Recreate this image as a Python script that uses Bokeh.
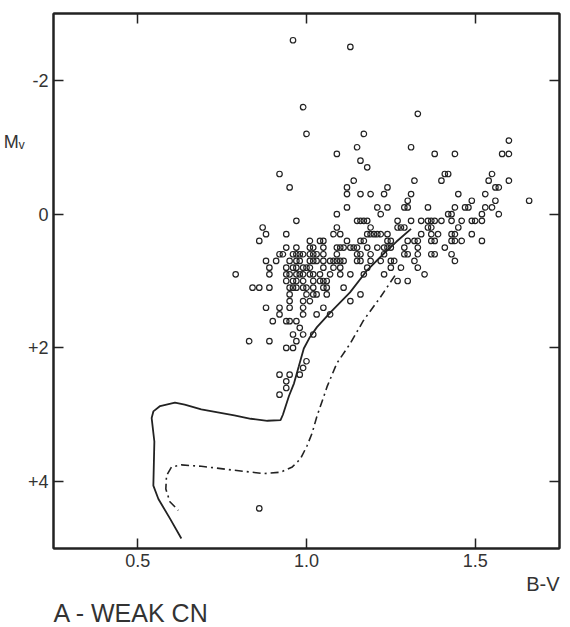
from bokeh.plotting import figure
from bokeh.models import Range1d, FixedTicker, LinearAxis, Title
from bokeh.embed import file_html
from bokeh.resources import INLINE

# ---- data: stars (B-V, Mv), listed row by row in Mv ----
star_bv = [
    0.96,
    1.13,
    1.60,
    0.99,
    1.33,
    1.00, 1.17,
    1.15, 1.31,
    1.09, 1.38, 1.44, 1.58, 1.60,
    1.16,
    1.18,
    0.92, 1.41, 1.42, 1.55,
    1.14, 1.32, 1.40, 1.54, 1.60,
    0.95, 1.12, 1.24, 1.56, 1.57,
    1.12, 1.16, 1.19, 1.23, 1.31, 1.45, 1.53,
    1.30, 1.49, 1.56, 1.66,
    1.12, 1.21, 1.24, 1.29, 1.30, 1.36, 1.44, 1.47, 1.48, 1.53, 1.55,
    1.09, 1.22, 1.42, 1.43, 1.52, 1.57,
    0.97, 1.15, 1.16, 1.17, 1.18, 1.27, 1.31, 1.34, 1.36, 1.37, 1.38, 1.40, 1.43, 1.46, 1.49, 1.50, 1.52,
    0.87, 1.09, 1.19, 1.27, 1.28, 1.29, 1.36, 1.37, 1.45,
    0.88, 0.94, 1.08, 1.10, 1.18, 1.19, 1.20, 1.21, 1.22, 1.24, 1.34, 1.37, 1.39, 1.43, 1.44, 1.49,
    0.86, 1.01, 1.04, 1.05, 1.12, 1.16, 1.17, 1.24, 1.25, 1.30, 1.32, 1.33, 1.37, 1.38, 1.43, 1.44, 1.46, 1.52,
    0.94, 0.97, 1.01, 1.02, 1.05, 1.09, 1.10, 1.11, 1.13, 1.14, 1.15, 1.18, 1.21, 1.23, 1.24, 1.25, 1.29, 1.33, 1.41,
    0.92, 0.93, 0.96, 0.97, 0.98, 0.99, 1.01, 1.02, 1.03, 1.05, 1.09, 1.15, 1.16, 1.19, 1.23, 1.29, 1.30, 1.33, 1.37, 1.38, 1.43,
    0.88, 0.91, 0.95, 0.97, 0.98, 1.01, 1.02, 1.03, 1.05, 1.07, 1.08, 1.09, 1.10, 1.11, 1.15, 1.16, 1.19, 1.22, 1.25, 1.26, 1.32, 1.44,
    0.89, 0.94, 0.96, 0.97, 0.99, 1.00, 1.01, 1.05, 1.08, 1.10, 1.18, 1.25, 1.28, 1.33,
    0.79, 0.89, 0.94, 0.95, 0.97, 0.98, 0.99, 1.01, 1.02, 1.04, 1.07, 1.10, 1.13, 1.17, 1.23, 1.35,
    0.94, 0.96, 0.97, 0.99, 1.02, 1.04, 1.05, 1.06, 1.27, 1.30,
    0.84, 0.86, 0.89, 0.95, 0.96, 0.97, 0.99, 1.00, 1.02, 1.05, 1.06, 1.11,
    0.95, 1.00, 1.02, 1.03, 1.06, 1.16,
    0.95, 0.99, 1.01, 1.13,
    0.88, 0.92, 0.95, 0.99, 1.05,
    0.92, 0.99, 1.03, 1.07,
    0.90, 0.94, 0.95, 0.97,
    0.98,
    0.96, 0.99, 1.02,
    0.83, 0.89, 0.97,
    0.94, 0.96,
    1.00,
    0.99,
    0.92, 0.95, 0.98,
    0.94,
    0.94,
    0.92,
    0.86,
]
star_mv = (
    [-2.6] * 1 + [-2.5] * 1 + [-1.1] * 1 + [-1.6] * 1 + [-1.5] * 1 + [-1.2] * 2 + [-1.0] * 2
    + [-0.9] * 5 + [-0.8] * 1 + [-0.7] * 1 + [-0.6] * 4 + [-0.5] * 5 + [-0.4] * 5
    + [-0.3] * 7 + [-0.2] * 4 + [-0.1] * 11 + [0.0] * 6 + [0.1] * 17 + [0.2] * 9
    + [0.3] * 16 + [0.4] * 18 + [0.5] * 19 + [0.6] * 21 + [0.7] * 22 + [0.8] * 14
    + [0.9] * 16 + [1.0] * 10 + [1.1] * 12 + [1.2] * 6 + [1.3] * 4 + [1.4] * 5
    + [1.5] * 4 + [1.6] * 4 + [1.7] * 1 + [1.8] * 3 + [1.9] * 3 + [2.0] * 2
    + [2.2] * 1 + [2.3] * 1 + [2.4] * 3 + [2.5] * 1 + [2.6] * 1 + [2.7] * 1 + [4.4] * 1
)

# ---- fitted sequences ----
solid_bv = [1.31, 1.267, 1.227, 1.178, 1.129, 1.071, 1.031, 1.010, 0.992, 0.977, 0.963, 0.948,
            0.930, 0.923, 0.884, 0.835, 0.786, 0.688, 0.639, 0.610, 0.566, 0.546, 0.541,
            0.549, 0.546, 0.561, 0.595, 0.629]
solid_mv = [0.22, 0.41, 0.60, 0.85, 1.17, 1.47, 1.69, 1.84, 2.01, 2.28, 2.53, 2.72,
            3.00, 3.08, 3.09, 3.06, 3.01, 2.92, 2.85, 2.82, 2.87, 2.95, 3.05,
            3.40, 4.06, 4.26, 4.55, 4.85]
dashdot_bv = [1.262, 1.218, 1.169, 1.129, 1.090, 1.061, 1.051, 1.031, 1.017, 1.002, 0.982,
              0.958, 0.923, 0.874, 0.786, 0.688, 0.629, 0.600, 0.585, 0.583, 0.595, 0.620]
dashdot_mv = [0.92, 1.25, 1.59, 1.94, 2.23, 2.58, 2.73, 3.02, 3.27, 3.46, 3.66,
              3.78, 3.86, 3.88, 3.83, 3.77, 3.75, 3.78, 3.91, 4.11, 4.30, 4.43]

x_ticks = [0.5, 1.0, 1.5]
x_tick_labels = ["0.5", "1.0", "1.5"]
y_ticks = [-2, 0, 2, 4]
y_tick_labels = ["-2", "0", "+2", "+4"]
y_title_pos = [-1.08]
y_title = ["M\u1d65"]
x_title = "B-V"
panel_title = "A - WEAK CN"

INK = "#222222"
TXT = "#333333"
FONT = "Liberation Sans"

p = figure(width=568, height=627, output_backend="svg", toolbar_location=None,
           x_range=Range1d(0.25, 1.75), y_range=Range1d(5.0, -3.0),
           min_border_left=51, min_border_right=9, min_border_top=13, min_border_bottom=73,
           x_axis_location="below", y_axis_location="left")
p.background_fill_color = "white"
p.border_fill_color = "white"
p.grid.visible = False
p.outline_line_color = INK
p.outline_line_width = 2


def style_axis(ax, labels):
    ax.axis_line_color = INK
    ax.axis_line_width = 2
    ax.major_tick_line_color = INK
    ax.major_tick_line_width = 1.5
    ax.major_tick_in = 10
    ax.major_tick_out = 0
    ax.minor_tick_line_color = None
    if labels:
        ax.major_label_text_font = FONT
        ax.major_label_text_font_size = "18px"
        ax.major_label_text_color = TXT
        ax.major_label_standoff = 5
    else:
        ax.major_label_text_font_size = "0px"
        ax.major_label_standoff = 0


p.xaxis.ticker = FixedTicker(ticks=x_ticks)
p.xaxis.major_label_overrides = dict(zip(x_ticks, x_tick_labels))
p.yaxis.ticker = FixedTicker(ticks=y_ticks)
p.yaxis.major_label_overrides = dict(zip(y_ticks, y_tick_labels))
style_axis(p.xaxis[0], True)
style_axis(p.yaxis[0], True)

top_ax = LinearAxis(ticker=FixedTicker(ticks=x_ticks))
style_axis(top_ax, False)
p.add_layout(top_ax, "above")
right_ax = LinearAxis(ticker=FixedTicker(ticks=y_ticks))
style_axis(right_ax, False)
p.add_layout(right_ax, "right")

# M_v label as an extra, line-less left axis placed outside the tick labels
mv_ax = LinearAxis(ticker=FixedTicker(ticks=y_title_pos))
mv_ax.major_label_overrides = dict(zip(y_title_pos, y_title))
mv_ax.axis_line_color = None
mv_ax.major_tick_line_color = None
mv_ax.minor_tick_line_color = None
mv_ax.major_tick_in = 0
mv_ax.major_tick_out = 0
mv_ax.major_label_standoff = 0
mv_ax.major_label_text_font = FONT
mv_ax.major_label_text_font_size = "18px"
mv_ax.major_label_text_color = TXT
p.add_layout(mv_ax, "left")

# curves
p.line(solid_bv, solid_mv, line_color=INK, line_width=1.8)
p.line(dashdot_bv, dashdot_mv, line_color=INK, line_width=1.6, line_dash="8 4 2 4")

# stars
p.scatter(star_bv, star_mv, marker="circle", size=5.5, fill_color=None,
          line_color=INK, line_width=1.2)

# texts below the plot
p.add_layout(Title(text=x_title, align="right", text_font=FONT, text_font_size="20px",
                   text_font_style="normal", text_color=TXT, standoff=2), "below")
p.add_layout(Title(text=panel_title, align="left", text_font=FONT, text_font_size="25px",
                   text_font_style="normal", text_color=TXT, standoff=2), "below")

open("out.html", "w").write(file_html(p, INLINE))
